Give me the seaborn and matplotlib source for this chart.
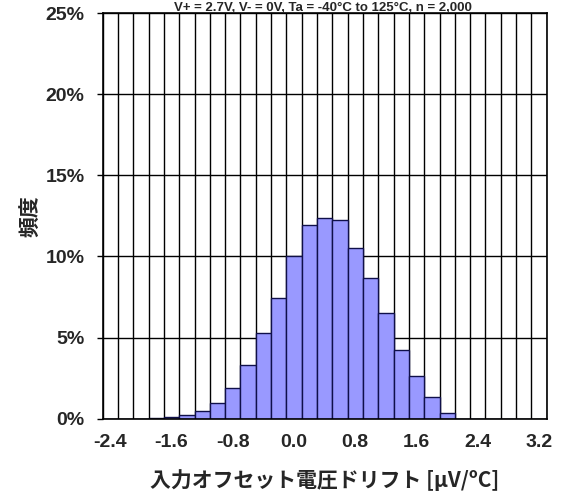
import numpy as np
import pandas as pd
import matplotlib
matplotlib.use("Agg")
import matplotlib.pyplot as plt
from matplotlib.ticker import FuncFormatter
import seaborn as sns

# bin centres (µV/ºC) and share of units in each bin (%)
drift_bins = [-2.4, -2.2, -2.0, -1.8, -1.6, -1.4, -1.2, -1.0, -0.8, -0.6,
              -0.4, -0.2, 0.0, 0.2, 0.4, 0.6, 0.8, 1.0, 1.2, 1.4,
              1.6, 1.8, 2.0, 2.2, 2.4, 2.6, 2.8, 3.0, 3.2]
freq_pct = [0.0, 0.0, 0.0, 0.03, 0.12, 0.19, 0.45, 0.93, 1.88, 3.33,
            5.27, 7.44, 10.04, 11.94, 12.40, 12.25, 10.54, 8.68, 6.51, 4.26,
            2.64, 1.30, 0.37, 0.0, 0.0, 0.0, 0.0, 0.0, 0.0]
xtick_vals = [-2.4, -1.6, -0.8, 0.0, 0.8, 1.6, 2.4, 3.2]
ytick_vals = [0, 5, 10, 15, 20, 25]
title = "V+ = 2.7V, V- = 0V, Ta = -40°C to 125°C, n = 2,000"

df = pd.DataFrame({"drift": drift_bins, "freq": freq_pct})

sns.set_style("white")
plt.rcParams["font.family"] = ["Liberation Sans", "DejaVu Sans"]
jp_font = ["Noto Sans CJK JP", "Liberation Sans", "DejaVu Sans"]

step = 0.2
lo = drift_bins[0] - step / 2
hi = drift_bins[-1] + step / 2
edges = np.linspace(lo, hi, len(drift_bins) + 1)

fig = plt.figure(figsize=(5.61, 4.93), dpi=100)
ax = fig.add_axes([0.183, 0.151, 0.7915, 0.822])

sns.histplot(data=df, x="drift", weights="freq", binwidth=step, binrange=(lo, hi),
             ax=ax, color="#9999FF", edgecolor="#10104a", linewidth=1.0, alpha=1.0)

ax.set_xlim(lo, hi)
ax.set_ylim(0, 25)

# grid: vertical lines at every bin edge, horizontal every 5%
ax.set_xticks(edges, minor=True)
ax.set_xticks(xtick_vals)
ax.set_xticklabels([f"{v:.1f}" for v in xtick_vals])
ax.set_yticks(ytick_vals)
ax.yaxis.set_major_formatter(FuncFormatter(lambda v, p: f"{v:.0f}%"))
ax.grid(which="minor", axis="x", color="black", linewidth=1.0)
ax.grid(which="major", axis="y", color="black", linewidth=1.0)
ax.set_axisbelow(True)

ax.tick_params(axis="x", which="both", length=0, pad=11)
ax.tick_params(axis="y", which="major", length=4, width=1, color="black",
               direction="out", pad=9, left=True)
for lbl in ax.get_xticklabels() + ax.get_yticklabels():
    lbl.set_fontsize(14)
    lbl.set_fontweight("bold")
    lbl.set_family("Liberation Sans")

for sp in ax.spines.values():
    sp.set_color("black")
    sp.set_linewidth(1.2)

ax.set_xlabel("入力オフセット電圧ドリフト [μV/ºC]", fontsize=15, fontweight="bold",
              family=jp_font)
ax.set_ylabel("頻度", fontsize=15, fontweight="bold", family=jp_font)
ax.xaxis.set_label_coords(0.5, -0.125)
ax.yaxis.set_label_coords(-0.14, 0.5)

# title sits right at the top edge in the reference
fig.text(0.576, 1 - 11 / 493, title, ha="center", va="baseline",
         fontsize=9.5, fontweight="bold", family="Liberation Sans")

fig.savefig("out.png", dpi=100)
